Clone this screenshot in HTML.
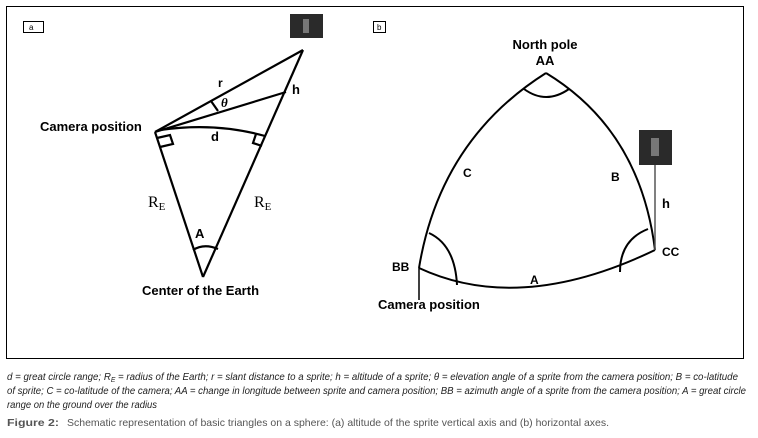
<!DOCTYPE html>
<html><head><style>body{margin:0;background:#fff;width:758px;height:433px;overflow:hidden}</style></head><body>
<svg width="758" height="433" xmlns="http://www.w3.org/2000/svg" font-family="Liberation Sans, sans-serif">
<rect x="6.5" y="6.5" width="737" height="352" fill="none" stroke="#000" stroke-width="1"/>
<!-- panel a -->
<rect x="23.5" y="21.5" width="20" height="11" fill="#fff" stroke="#000"/>
<text x="29" y="30" font-size="8">a</text>
<rect x="290" y="14" width="33" height="24" fill="#2a2a2a"/>
<rect x="303" y="19" width="6" height="14" fill="#999" opacity="0.7"/>
<g stroke="#000" stroke-width="2.2" fill="none">
<line x1="155" y1="132" x2="303" y2="50"/>
<line x1="155" y1="132" x2="286" y2="92"/>
<line x1="303" y1="50" x2="203" y2="277"/>
<line x1="155" y1="132" x2="203" y2="277"/>
<path d="M160 130 Q215 122 265 136"/>
<path d="M211 101 L218 111"/>
<path d="M193 250 Q204 243 218 249"/>
<path d="M157 138 L170 135 L173 144 L160 147"/>
<path d="M256 134 L253 143 L262 146"/>
</g>
<g font-weight="bold" font-size="13">
<text x="40" y="131">Camera position</text>
<text x="218" y="87" font-size="12">r</text>
<text x="292" y="94">h</text>
<text x="221" y="107" font-style="italic" font-family="Liberation Serif, serif">θ</text>
<text x="211" y="141">d</text>
<text x="195" y="238">A</text>
<text x="142" y="295">Center of the Earth</text>
</g>
<text x="148" y="207" font-size="16" font-family="Liberation Serif, serif">R<tspan font-size="11" dy="3">E</tspan></text>
<text x="254" y="207" font-size="16" font-family="Liberation Serif, serif">R<tspan font-size="11" dy="3">E</tspan></text>
<!-- panel b -->
<rect x="373.5" y="21.5" width="12" height="11" fill="#fff" stroke="#000"/>
<text x="377" y="30" font-size="8">b</text>
<rect x="639" y="130" width="33" height="35" fill="#2a2a2a"/>
<rect x="651" y="138" width="8" height="18" fill="#999" opacity="0.7"/>
<g stroke="#000" stroke-width="2" fill="none">
<path d="M546 73 Q440 140 419 268"/>
<path d="M546 73 Q640 130 655 250"/>
<path d="M419 268 Q520 315 655 250"/>
<path d="M524 89 Q546 105 569 89"/>
<path d="M429 233 Q455 245 457 285"/>
<path d="M620 272 Q620 240 648 229"/>
<line x1="419" y1="268" x2="419" y2="300" stroke-width="1.5"/>
<line x1="655" y1="165" x2="655" y2="250" stroke="#555" stroke-width="1.5"/>
</g>
<g font-weight="bold" font-size="13">
<text x="545" y="49" text-anchor="middle">North pole</text>
<text x="545" y="65" text-anchor="middle">AA</text>
<text x="463" y="177" font-size="12">C</text>
<text x="611" y="181" font-size="12">B</text>
<text x="662" y="208">h</text>
<text x="662" y="256" font-size="12">CC</text>
<text x="392" y="271" font-size="12">BB</text>
<text x="530" y="284" font-size="12">A</text>
<text x="378" y="309">Camera position</text>
</g>
<!-- captions -->
<g font-size="10" font-style="italic" fill="#222">
<text x="7" y="380" textLength="731" lengthAdjust="spacingAndGlyphs">d = great circle range; R<tspan font-size="7" dy="2">E</tspan><tspan dy="-2"> = radius of the Earth; r = slant distance to a sprite; h = altitude of a sprite; θ = elevation angle of a sprite from the camera position; B = co-latitude</tspan></text>
<text x="7" y="394" textLength="739" lengthAdjust="spacingAndGlyphs">of sprite; C = co-latitude of the camera; AA = change in longitude between sprite and camera position; BB = azimuth angle of a sprite from the camera position; A = great circle</text>
<text x="7" y="408" textLength="150" lengthAdjust="spacingAndGlyphs">range on the ground over the radius</text>
</g>
<text x="7" y="426" font-size="10.5" fill="#555" textLength="52" lengthAdjust="spacingAndGlyphs" font-weight="bold">Figure 2:</text>
<text x="67" y="426" font-size="10.5" fill="#555" textLength="542" lengthAdjust="spacingAndGlyphs">Schematic representation of basic triangles on a sphere: (a) altitude of the sprite vertical axis and (b) horizontal axes.</text>
</svg>
</body></html>
